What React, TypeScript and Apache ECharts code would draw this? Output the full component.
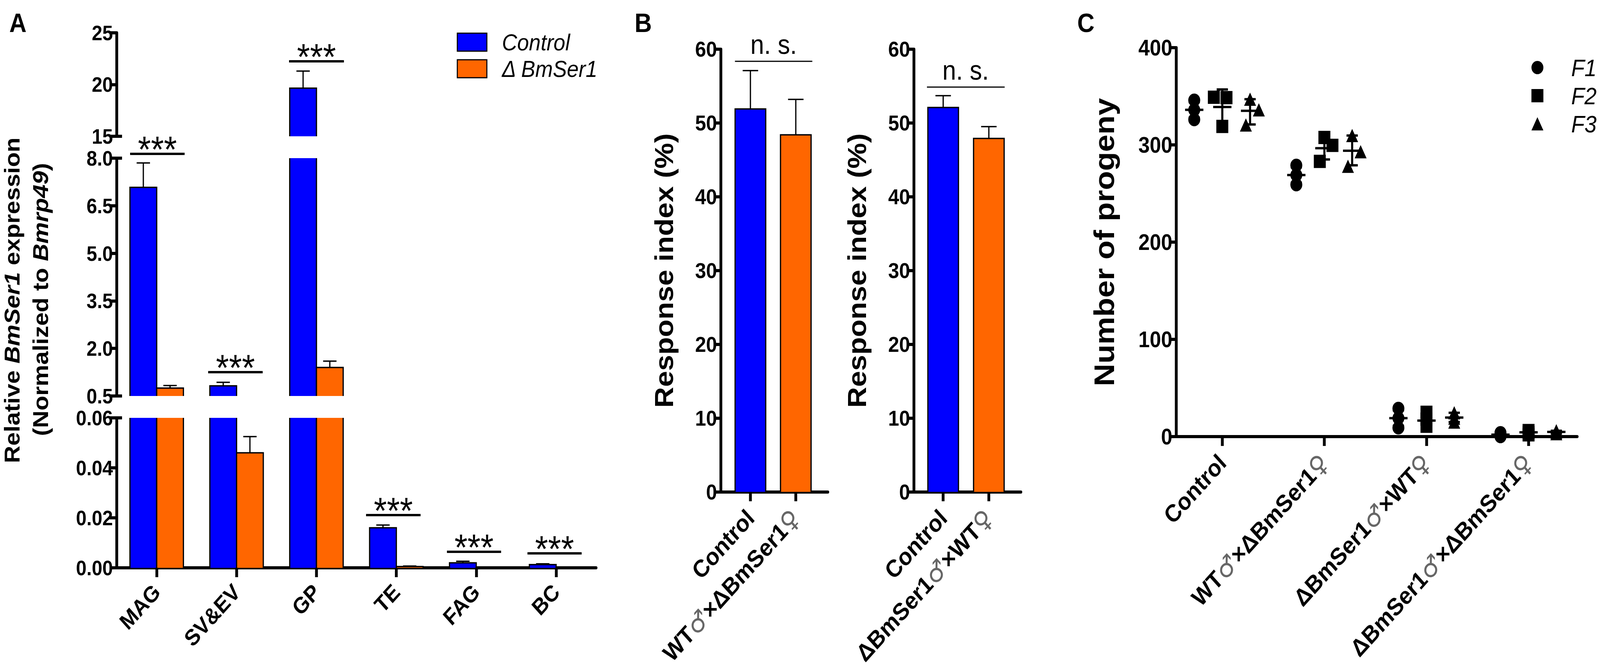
import * as echarts from 'echarts';
import { useEffect, useRef } from 'react';

const tissues = ['MAG', 'SV&EV', 'GP', 'TE', 'FAG', 'BC'];
const controlExpr = [7.08, 0.82, 19.65, 0.016, 0.002, 0.0013];
const controlExprTop = [7.85, 0.93, 21.3, 0.0171, 0.0026, 0.0016];
const mutantExpr = [0.75, 0.046, 1.4, 0.0005, 0.0001, 0.0001];
const mutantExprTop = [0.83, 0.0525, 1.6, 0.0007, 0.00015, 0.00015];

const topTicks = [15, 20, 25];
const midTicks = [0.5, 2, 3.5, 5, 6.5, 8];
const lowTicks = [0, 0.02, 0.04, 0.06];

const responseTicks = [0, 10, 20, 30, 40, 50, 60];
const responseLeft = [51.9, 48.4];
const responseLeftTop = [57.1, 53.2];
const responseRight = [52.1, 47.9];
const responseRightTop = [53.7, 49.5];

const LEFT_F1 = '{b|WT}{s|♂}{b|×ΔBmSer1}{s|♀}';
const RIGHT_F1 = '{b|ΔBmSer1}{s|♂}{b|×WT}{s|♀}';
const BOTH_F1 = '{b|ΔBmSer1}{s|♂}{b|×ΔBmSer1}{s|♀}';
const leftLabels = ['{b|Control}', LEFT_F1];
const rightLabels = ['{b|Control}', RIGHT_F1];
const progenyLabels = ['{b|Control}', LEFT_F1, RIGHT_F1, BOTH_F1];
const progenyTicks = [0, 100, 200, 300, 400];

// [x position, progeny]
const f1Points = [
  [-0.275, 346], [-0.275, 336], [-0.275, 326],
  [0.725, 279], [0.725, 269], [0.725, 259],
  [1.725, 29], [1.725, 19], [1.725, 9],
  [2.725, 4], [2.725, 2], [2.725, 0],
];
const f2Points = [
  [-0.083, 349], [0.041, 348.6], [0, 319],
  [1, 307.6], [1.079, 299.5], [0.955, 283],
  [2, 25], [2, 18], [2, 10.6],
  [3, 6.2], [3, 4], [3, 1.8],
];
const f3Points = [
  [0.272, 347], [0.358, 336], [0.231, 320.5],
  [1.272, 309.6], [1.355, 293], [1.231, 278],
  [2.272, 24.5], [2.272, 19], [2.272, 15],
  [3.272, 6], [3.272, 4.5], [3.272, 3],
];
// [x position, mean, lower, upper]
const f1Means = [[-0.275, 336, 328, 344], [0.725, 269, 261, 277], [1.725, 19, 11, 27], [2.725, 2, 0.5, 3.5]];
const f2Means = [[0, 339, 321, 357], [1, 296.6, 285, 309], [2, 16.5, 11, 22], [3, 4.4, 2.4, 6.4]];
const f3Means = [[0.272, 335, 321, 347], [1.272, 294, 279, 309.6], [2.272, 19.6, 15, 24.5], [3.272, 4.8, 3, 6]];

const BLUE = '#0000ff';
const ORANGE = '#ff6600';
const FONT = '"Liberation Sans", Arial, sans-serif';
const DESIGN_WIDTH = 4550;

// filled bar with its three black sides and whisker, cut cleanly at the grid edge
const barItem = (offset: number, width: number, capHalf: number) => (params: any, api: any) => {
  const cs = params.coordSys;
  const top = api.coord([api.value(0), api.value(1)]);
  const errY = api.coord([api.value(0), api.value(2)])[1];
  const bottom = cs.y + cs.height;
  if (top[1] >= bottom) return null;
  const left = top[0] + offset - width / 2;
  const right = left + width;
  const cut = top[1] < cs.y;
  const y = cut ? cs.y : top[1];
  const stroke = { stroke: '#000', lineWidth: 3.5, fill: null };
  const children: any[] = [
    { type: 'rect', shape: { x: left, y, width, height: bottom - y }, style: { fill: api.visual('color') } },
  ];
  if (cut) {
    children.push({ type: 'line', shape: { x1: left, y1: y, x2: left, y2: bottom }, style: stroke });
    children.push({ type: 'line', shape: { x1: right, y1: y, x2: right, y2: bottom }, style: stroke });
  } else {
    children.push({
      type: 'polyline',
      shape: { points: [[left, bottom], [left, y], [right, y], [right, bottom]] },
      style: stroke,
    });
    if (errY >= cs.y) {
      const mid = (left + right) / 2;
      children.push({ type: 'line', shape: { x1: mid, y1: y, x2: mid, y2: errY }, style: stroke });
      children.push({ type: 'line', shape: { x1: mid - capHalf, y1: errY, x2: mid + capHalf, y2: errY }, style: stroke });
    }
  }
  return { type: 'group', children };
};

const meanItem = (params: any, api: any) => {
  const x = api.coord([api.value(0), api.value(1)])[0];
  const mean = api.coord([api.value(0), api.value(1)])[1];
  const lo = api.coord([api.value(0), api.value(2)])[1];
  const hi = api.coord([api.value(0), api.value(3)])[1];
  const style = { stroke: '#000', lineWidth: 6 };
  return {
    type: 'group',
    children: [
      { type: 'line', shape: { x1: x - 26, y1: mean, x2: x + 26, y2: mean }, style },
      { type: 'line', shape: { x1: x, y1: lo, x2: x, y2: hi }, style },
      { type: 'line', shape: { x1: x - 16, y1: lo, x2: x + 16, y2: lo }, style },
      { type: 'line', shape: { x1: x - 16, y1: hi, x2: x + 16, y2: hi }, style },
    ],
  };
};

const yAxisBase = (gridIndex: number, min: number, max: number, ticks: number[], digits: number, fontSize: number) => ({
  type: 'value',
  gridIndex,
  min,
  max,
  splitLine: { show: false },
  axisLine: { show: true, onZero: false, lineStyle: { color: '#000', width: 8 } },
  axisTick: { show: true, length: 20, customValues: ticks, lineStyle: { color: '#000', width: 8 } },
  axisLabel: {
    margin: 11,
    customValues: ticks,
    color: '#000',
    fontFamily: FONT,
    fontWeight: 'bold',
    fontSize,
    formatter: (v: number) => v.toFixed(digits),
  },
});

const richLabel = {
  b: { fontFamily: FONT, fontWeight: 'bold', fontSize: 62, color: '#000' },
  s: { fontFamily: '"DejaVu Sans"', fontWeight: 'normal', fontSize: 66, color: '#666' },
};

const valueX = (gridIndex: number, min: number, max: number, labels: string[], margin: number) => {
  const positions = labels.map((_, i) => i);
  return {
    type: 'value',
    gridIndex,
    min,
    max,
    splitLine: { show: false },
    axisLine: { show: true, onZero: false, lineStyle: { color: '#000', width: 8 } },
    axisTick: { show: true, length: 24, customValues: positions, lineStyle: { color: '#000', width: 8 } },
    axisLabel: {
      show: true,
      customValues: positions,
      rotate: 45,
      margin,
      formatter: (v: number) => labels[v],
      rich: richLabel,
    },
  };
};

const hiddenCategory = (gridIndex: number) => ({
  type: 'category',
  gridIndex,
  data: tissues,
  show: false,
});

const text = (x: number, y: number, value: string, font: any, extra: any = {}) => ({
  type: 'text',
  x,
  y,
  z: 20,
  ...extra,
  style: {
    text: value,
    fontFamily: FONT,
    fill: '#000',
    align: 'center',
    verticalAlign: 'middle',
    textAlign: 'center',
    textVerticalAlign: 'middle',
    ...font,
  },
});

const rule = (x1: number, x2: number, y: number, lineWidth: number) => ({
  type: 'line',
  z: 20,
  shape: { x1, y1: y, x2, y2: y },
  style: { stroke: '#000', lineWidth },
});

const stars = (x1: number, x2: number, y: number) => [
  rule(x1, x2, y, 6),
  text((x1 + x2) / 2, y - 12, '***', { fontSize: 95 }),
];

const titleRich = {
  b: { fontFamily: FONT, fontWeight: 'bold', fontSize: 62, fill: '#000' },
  i: { fontFamily: FONT, fontWeight: 'bold', fontStyle: 'italic', fontSize: 62, fill: '#000' },
};

const App = () => {
  const chartRef = useRef<HTMLDivElement>(null);
  // the window can be narrower than the 4550px the figure is laid out for
  const squeeze = Math.min(1, window.innerWidth / DESIGN_WIDTH);

  useEffect(() => {
    document.body.style.margin = '0';
    document.body.style.overflow = 'hidden';
    let chart: echarts.ECharts | null = null;
    if (chartRef.current !== null) {
      chart = echarts.init(chartRef.current, null, { renderer: 'svg' });
    }

    const exprSeries = (name: string, color: string, mean: number[], top: number[], offset: number) =>
      [0, 1, 2].map((i) => ({
        type: 'custom',
        name,
        xAxisIndex: i,
        yAxisIndex: i,
        itemStyle: { color, borderColor: '#000', borderWidth: 3 },
        data: mean.map((v, k) => [k, v, top[k]]),
        encode: { x: 0, y: 1 },
        renderItem: barItem(offset, 76, 19),
      }));

    const responseSeries = (index: number, mean: number[], top: number[]) =>
      [BLUE, ORANGE].map((color, k) => ({
        type: 'custom',
        name: k === 0 ? 'Control' : 'Δ BmSer1',
        xAxisIndex: index,
        yAxisIndex: index,
        itemStyle: { color },
        data: [[k, mean[k], top[k]]],
        encode: { x: 0, y: 1 },
        renderItem: barItem(0, 87, 22),
      }));

    const scatter = (name: string, symbol: string, points: number[][]) => ({
      type: 'scatter',
      name,
      symbol,
      symbolSize: 34,
      xAxisIndex: 5,
      yAxisIndex: 5,
      itemStyle: { color: '#000', opacity: 1 },
      data: points,
    });

    const means = (data: number[][]) => ({
      type: 'custom',
      xAxisIndex: 5,
      yAxisIndex: 5,
      data,
      encode: { x: 0, y: 1 },
      renderItem: meanItem,
    });

    const responseName = {
      name: 'Response index (%)',
      nameLocation: 'middle',
      nameRotate: 90,
      nameGap: 125,
      nameTextStyle: { fontFamily: FONT, fontWeight: 'bold', fontSize: 74, color: '#000' },
    };

    const options = {
      animation: false,
      backgroundColor: '#fff',
      textStyle: { fontFamily: FONT },
      legend: [
        {
          left: 1294,
          top: 73,
          orient: 'vertical',
          icon: 'rect',
          itemWidth: 84,
          itemHeight: 46,
          itemGap: 8,
          selectedMode: false,
          data: [
            { name: 'Control', itemStyle: { color: BLUE, borderColor: '#000', borderWidth: 3 } },
            { name: 'Δ BmSer1', itemStyle: { color: ORANGE, borderColor: '#000', borderWidth: 3 } },
          ],
          textStyle: { fontSize: 60, fontStyle: 'italic', color: '#000', lineHeight: 46, padding: [0, 0, 0, 38] },
        },
        {
          left: 4350,
          top: 137,
          orient: 'vertical',
          itemWidth: 34,
          itemHeight: 34,
          itemGap: 10,
          selectedMode: false,
          data: [
            { name: 'F1', icon: 'circle', itemStyle: { color: '#000', opacity: 1 } },
            { name: 'F2', icon: 'rect', itemStyle: { color: '#000', opacity: 1 } },
            { name: 'F3', icon: 'triangle', itemStyle: { color: '#000', opacity: 1 } },
          ],
          textStyle: { fontSize: 62, fontStyle: 'italic', color: '#000', lineHeight: 34, padding: [0, 0, 0, 74] },
        },
      ],
      grid: [
        { left: 332, width: 1363, top: 84, height: 265 },
        { left: 332, width: 1363, top: 405, height: 609 },
        { left: 332, width: 1363, top: 1070, height: 384 },
        { left: 2050, width: 304, top: 126, height: 1138 },
        { left: 2599, width: 304, top: 126, height: 1138 },
        { left: 3345, width: 1140, top: 122, height: 996 },
      ],
      xAxis: [
        hiddenCategory(0),
        hiddenCategory(1),
        {
          type: 'category',
          gridIndex: 2,
          data: tissues,
          axisLine: { show: true, lineStyle: { color: '#000', width: 8 } },
          axisTick: { show: true, alignWithLabel: true, length: 24, lineStyle: { color: '#000', width: 8 } },
          axisLabel: {
            interval: 0,
            rotate: 45,
            margin: 52,
            color: '#000',
            fontFamily: FONT,
            fontWeight: 'bold',
            fontSize: 58,
          },
        },
        valueX(3, -0.651, 1.705, leftLabels, 56),
        valueX(4, -0.64, 1.7, rightLabels, 56),
        valueX(5, -0.451, 3.476, progenyLabels, 56),
      ],
      yAxis: [
        yAxisBase(0, 15, 25, topTicks, 0, 54),
        yAxisBase(1, 0.5, 8, midTicks, 1, 54),
        yAxisBase(2, 0, 0.06, lowTicks, 2, 54),
        { ...yAxisBase(3, 0, 60, responseTicks, 0, 56), ...responseName },
        { ...yAxisBase(4, 0, 60, responseTicks, 0, 56), ...responseName },
        {
          ...yAxisBase(5, 0, 400, progenyTicks, 0, 58),
          name: 'Number of progeny',
          nameLocation: 'middle',
          nameRotate: 90,
          nameGap: 165,
          nameTextStyle: { fontFamily: FONT, fontWeight: 'bold', fontSize: 80, color: '#000' },
        },
      ],
      series: [
        ...exprSeries('Control', BLUE, controlExpr, controlExprTop, -38),
        ...exprSeries('Δ BmSer1', ORANGE, mutantExpr, mutantExprTop, 38),
        ...responseSeries(3, responseLeft, responseLeftTop),
        ...responseSeries(4, responseRight, responseRightTop),
        scatter('F1', 'circle', f1Points),
        scatter('F2', 'rect', f2Points),
        scatter('F3', 'triangle', f3Points),
        means(f1Means),
        means(f2Means),
        means(f3Means),
      ],
      graphic: [
        text(51, 58, 'A', { fontSize: 68, fontWeight: 'bold' }),
        text(1829, 58, 'B', { fontSize: 68, fontWeight: 'bold' }),
        text(3088, 58, 'C', { fontSize: 68, fontWeight: 'bold' }),
        // break caps on the split axis
        rule(332, 347, 349, 8),
        rule(332, 347, 405, 8),
        rule(332, 347, 1014, 8),
        rule(332, 347, 1070, 8),
        ...stars(370, 525, 394),
        ...stars(592, 747, 953),
        ...stars(822, 978, 157),
        ...stars(1041, 1196, 1319),
        ...stars(1271, 1425, 1413),
        ...stars(1500, 1654, 1417),
        rule(2090, 2310, 157, 3),
        text(2200, 114, 'n. s.', { fontSize: 70 }),
        rule(2636, 2857, 223, 3),
        text(2746, 180, 'n. s.', { fontSize: 70 }),
        text(34, 769, '{b|Relative }{i|BmSer1}{b| expression}', { rich: titleRich }, { rotation: Math.PI / 2 }),
        text(115, 767, '{b|(Normalized to }{i|Bmrp49}{b|)}', { rich: titleRich }, { rotation: Math.PI / 2 }),
      ],
    };

    chart?.setOption(options);

    return () => {
      chart?.dispose();
      chart = null;
    };
  }, []);

  return (
    <div
      ref={chartRef}
      style={{ width: DESIGN_WIDTH, height: 1708, transform: `scaleX(${squeeze})`, transformOrigin: '0 0' }}
    ></div>
  );
};
export default App;
